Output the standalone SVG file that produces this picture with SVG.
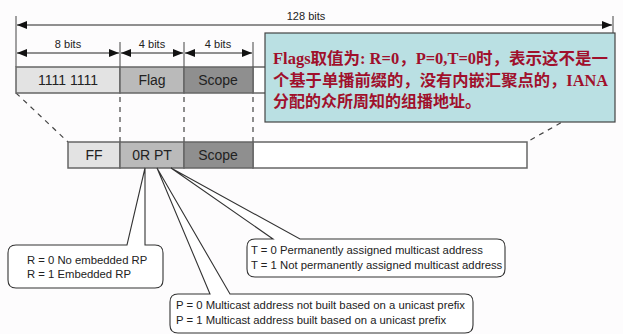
<svg xmlns="http://www.w3.org/2000/svg" width="623" height="334" viewBox="0 0 623 334">
<defs>
<marker id="ah" viewBox="0 0 10 10" refX="10" refY="5" markerWidth="10" markerHeight="10" markerUnits="userSpaceOnUse" orient="auto-start-reverse">
<path d="M0,1 L10,5 L0,9 Z" fill="#111"/>
</marker>
<style>
.t{font-family:"Liberation Sans",Arial,sans-serif;fill:#222}
.s{font-size:11px}
.c{font-size:11.3px}
.b{font-size:14px}
.dim{stroke:#222;stroke-width:1;fill:none}
.tick{stroke:#444;stroke-width:1}
.box{stroke:#666;stroke-width:1.5}
.dash{stroke:#444;stroke-width:1.2;stroke-dasharray:5,5;fill:none}
.call{fill:#fff;stroke:#333;stroke-width:1.1}
.cn{font-family:"Liberation Serif","Noto Sans CJK SC",serif;font-weight:bold;font-size:16px;fill:#a0102c}
</style>
</defs>
<rect width="623" height="334" fill="#fdfcfd"/>
<g id="connectors">
<line class="tick" x1="16" y1="16" x2="16" y2="67"/>
<line class="tick" x1="613" y1="16" x2="613" y2="33"/>
<line class="dim" x1="17" y1="25" x2="612" y2="25" marker-start="url(#ah)" marker-end="url(#ah)"/>
<line class="tick" x1="120" y1="42" x2="120" y2="67"/>
<line class="tick" x1="184" y1="42" x2="184" y2="67"/>
<line class="tick" x1="253" y1="42" x2="253" y2="67"/>
<line class="dim" x1="17" y1="53" x2="119" y2="53" marker-start="url(#ah)" marker-end="url(#ah)"/>
<line class="dim" x1="121" y1="53" x2="183" y2="53" marker-start="url(#ah)" marker-end="url(#ah)"/>
<line class="dim" x1="185" y1="53" x2="252" y2="53" marker-start="url(#ah)" marker-end="url(#ah)"/>
<line class="dash" x1="16" y1="93" x2="68" y2="142"/>
<line class="dash" x1="120" y1="97" x2="120" y2="142"/>
<line class="dash" x1="184" y1="97" x2="184" y2="142"/>
<line class="dash" x1="253" y1="97" x2="253" y2="142"/>
<line class="dash" x1="613" y1="93" x2="527" y2="142"/>
</g>
<g id="label-128"><text class="t s" x="306" y="20" text-anchor="middle">128 bits</text></g>
<g id="label-8"><text class="t s" x="68" y="48" text-anchor="middle">8 bits</text></g>
<g id="label-4a"><text class="t s" x="152" y="48" text-anchor="middle">4 bits</text></g>
<g id="label-4b"><text class="t s" x="218" y="48" text-anchor="middle">4 bits</text></g>
<g id="top-row">
<rect class="box" x="253" y="67" width="360" height="26" fill="#fff"/>
<g id="f1111"><rect class="box" x="16" y="67" width="104" height="26" fill="#e3e3e3"/><text class="t b" x="68" y="85" text-anchor="middle">1111 1111</text></g>
<g id="fflag"><rect class="box" x="120" y="67" width="64" height="26" fill="#bababa"/><text class="t b" x="152" y="85" text-anchor="middle">Flag</text></g>
<g id="fscope"><rect class="box" x="184" y="67" width="69" height="26" fill="#8f8f8f"/><text class="t b" x="218" y="85" text-anchor="middle">Scope</text></g>
</g>
<g id="note">
<rect x="265" y="33" width="350" height="89" fill="#bae0e3" stroke="#444" stroke-width="1.2"/>
<text class="cn" x="273" y="64" textLength="335" lengthAdjust="spacingAndGlyphs">Flags取值为: R=0，P=0,T=0时，表示这不是一</text>
<text class="cn" x="273" y="86" textLength="335" lengthAdjust="spacingAndGlyphs">个基于单播前缀的，没有内嵌汇聚点的，IANA</text>
<text class="cn" x="273" y="107">分配的众所周知的组播地址。</text>
</g>
<g id="bottom-row">
<rect class="box" x="253" y="142" width="274" height="26" fill="#fff"/>
<g id="bff"><rect class="box" x="68" y="142" width="52" height="26" fill="#e3e3e3"/><text class="t b" x="94" y="160" text-anchor="middle">FF</text></g>
<g id="bflag"><rect class="box" x="120" y="142" width="64" height="26" fill="#bababa"/><text class="t b" x="152" y="160" text-anchor="middle">0R PT</text></g>
<g id="bscope"><rect class="box" x="184" y="142" width="69" height="26" fill="#8f8f8f"/><text class="t b" x="218" y="160" text-anchor="middle">Scope</text></g>
</g>
<g id="callout-R">
<path class="call" d="M16,245 L127,245 L145,168 L145,245 L155,245 Q163,245 163,253 L163,280 Q163,288 155,288 L16,288 Q8,288 8,280 L8,253 Q8,245 16,245 Z"/>
<text class="t c" x="27" y="264">R = 0 No embedded RP</text>
<text class="t c" x="27" y="278">R = 1 Embedded RP</text>
</g>
<g id="callout-T">
<path class="call" d="M255,239 L273,239 L171,168 L300,239 L497,239 Q505,239 505,247 L505,269 Q505,277 497,277 L255,277 Q247,277 247,269 L247,247 Q247,239 255,239 Z"/>
<text class="t c" x="251" y="254">T = 0 Permanently assigned multicast address</text>
<text class="t c" x="251" y="269">T = 1 Not permanently assigned multicast address</text>
</g>
<g id="callout-P">
<path class="call" d="M178,294 L210,294 L157,168 L230,294 L465,294 Q473,294 473,302 L473,325 Q473,333 465,333 L178,333 Q170,333 170,325 L170,302 Q170,294 178,294 Z"/>
<text class="t c" x="176" y="309">P = 0 Multicast address not built based on a unicast prefix</text>
<text class="t c" x="176" y="324">P = 1 Multicast address built based on a unicast prefix</text>
</g>
</svg>
